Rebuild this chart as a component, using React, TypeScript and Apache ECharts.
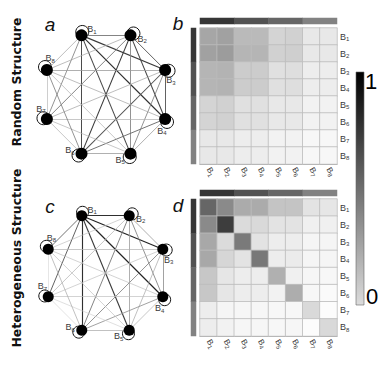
import React, { useEffect, useRef } from 'react';
import * as echarts from 'echarts';

const blocks = ['B1', 'B2', 'B3', 'B4', 'B5', 'B6', 'B7', 'B8'];
const rowTitles = ['Random Structure', 'Heterogeneous Structure'];
const panelLetters = ['a', 'b', 'c', 'd'];
const colorbarTicks = ['1', '0'];

// block-probability matrices (0..1), rows/cols B1..B8
const heatRandom = [
  [0.35, 0.37, 0.27, 0.27, 0.17, 0.18, 0.09, 0.09],
  [0.37, 0.39, 0.29, 0.29, 0.18, 0.19, 0.09, 0.09],
  [0.29, 0.3, 0.2, 0.2, 0.12, 0.13, 0.07, 0.07],
  [0.29, 0.3, 0.2, 0.2, 0.12, 0.13, 0.07, 0.07],
  [0.17, 0.18, 0.12, 0.12, 0.09, 0.09, 0.05, 0.05],
  [0.17, 0.18, 0.12, 0.12, 0.09, 0.09, 0.05, 0.05],
  [0.09, 0.09, 0.07, 0.07, 0.05, 0.05, 0.03, 0.03],
  [0.09, 0.09, 0.07, 0.07, 0.05, 0.05, 0.03, 0.03],
];
const heatHetero = [
  [0.6, 0.46, 0.33, 0.33, 0.23, 0.23, 0.11, 0.1],
  [0.46, 0.76, 0.14, 0.15, 0.11, 0.11, 0.06, 0.06],
  [0.34, 0.14, 0.52, 0.11, 0.07, 0.07, 0.04, 0.04],
  [0.34, 0.16, 0.11, 0.53, 0.07, 0.08, 0.04, 0.04],
  [0.22, 0.1, 0.07, 0.07, 0.31, 0.06, 0.035, 0.03],
  [0.22, 0.1, 0.07, 0.07, 0.05, 0.32, 0.03, 0.02],
  [0.07, 0.04, 0.035, 0.035, 0.03, 0.03, 0.15, 0.01],
  [0.07, 0.05, 0.035, 0.035, 0.03, 0.035, 0.01, 0.15],
];
// group shading of the top / left bars (4 groups of 2 blocks)
const groupBar = [0.79, 0.68, 0.6, 0.49];

// edges: [source, target, darkness 0..1]
const edgesRandom: [number, number, number][] = [
  [1, 2, 0.5], [1, 3, 0.75], [1, 4, 0.8], [1, 5, 0.7], [1, 6, 0.68], [1, 7, 0.45], [1, 8, 0.3],
  [2, 3, 0.6], [2, 4, 0.7], [2, 5, 0.45], [2, 6, 0.75], [2, 7, 0.5], [2, 8, 0.3],
  [3, 4, 0.6], [3, 5, 0.45], [3, 6, 0.65], [3, 7, 0.3], [3, 8, 0.35],
  [4, 5, 0.35], [4, 6, 0.55], [4, 7, 0.25], [4, 8, 0.3],
  [5, 6, 0.35], [5, 7, 0.25], [5, 8, 0.25],
  [6, 7, 0.25], [6, 8, 0.45],
  [7, 8, 0.22],
];
const edgesHetero: [number, number, number][] = [
  [1, 2, 0.8], [1, 3, 0.85], [1, 4, 0.85], [1, 5, 0.75], [1, 6, 0.8], [1, 7, 0.6], [1, 8, 0.55],
  [2, 3, 0.35], [2, 4, 0.45], [2, 5, 0.35], [2, 6, 0.5], [2, 7, 0.25], [2, 8, 0.2],
  [3, 4, 0.4], [3, 5, 0.28], [3, 6, 0.45], [3, 7, 0.2], [3, 8, 0.25],
  [4, 5, 0.25], [4, 6, 0.4], [4, 7, 0.2], [4, 8, 0.2],
  [5, 6, 0.28], [5, 7, 0.13], [5, 8, 0.2],
  [6, 7, 0.12], [6, 8, 0.28],
  [7, 8, 0.1],
];

const FONT = 'Liberation Sans';
const subRich = {
  b: { fontSize: 9, color: '#3a3a3a', fontFamily: FONT, lineHeight: 11 },
  s: { fontSize: 6, color: '#3a3a3a', fontFamily: FONT, lineHeight: 11, verticalAlign: 'bottom', padding: [4, 0, 0, 0] },
};
const subFmt = (name: string) => `{b|${name.slice(0, 1)}}{s|${name.slice(1)}}`;

const grayOf = (d: number) => {
  const g = Math.round(235 * (1 - d));
  return `rgb(${g},${g},${g})`;
};

// order nodes so the circular layout (which starts at 22.5deg, clockwise) puts B1 top-left
const layoutOrder = [3, 4, 5, 6, 7, 0, 1, 2];

function graphSeries(edges: [number, number, number][], cx: number, cy: number, r: number, nodeSize: number) {
  const nodes = layoutOrder.map((k, i) => {
    const ang = ((22.5 + 45 * i) * Math.PI) / 180;
    const la = ang + (83 * Math.PI) / 180;
    return {
      name: blocks[k],
      label: { offset: [12 * Math.cos(la), 12 * Math.sin(la)] },
    };
  });
  const rings = layoutOrder.map((k, i) => {
    const ang = ((22.5 + 45 * i) * Math.PI) / 180;
    const ra = ang + (35 * Math.PI) / 180;
    return { name: blocks[k], symbolOffset: [3.5 * Math.cos(ra), 3.5 * Math.sin(ra)] };
  });
  const box = { left: cx - r, top: cy - r, width: 2 * r, height: 2 * r };
  const main = {
    type: 'graph',
    layout: 'circular',
    ...box,
    silent: true,
    z: 3,
    symbol: 'circle',
    symbolSize: nodeSize,
    itemStyle: { color: '#000' },
    label: { show: true, position: 'inside', formatter: (p: any) => subFmt(p.name), rich: subRich },
    edgeSymbol: ['none', 'none'],
    data: nodes,
    links: edges.map(([s, t, d]) => ({
      source: blocks[s - 1],
      target: blocks[t - 1],
      lineStyle: { color: grayOf(d), width: 0.5 + 0.8 * d, opacity: 1, curveness: 0 },
    })),
  };
  const ringSeries = {
    type: 'graph',
    layout: 'circular',
    ...box,
    silent: true,
    z: 2,
    symbol: 'circle',
    symbolSize: nodeSize + 1,
    itemStyle: { color: 'rgba(255,255,255,0)', borderColor: '#111', borderWidth: 1 },
    label: { show: false },
    data: rings,
    links: [],
  };
  return [main, ringSeries];
}

const heatData = (m: number[][]) => m.flatMap((row, r) => row.map((v, c) => [c, r, v]));

export default function App() {
  const ref = useRef<HTMLDivElement>(null);
  useEffect(() => {
    document.body.style.margin = '0';
    const chart = echarts.init(ref.current!, null, { renderer: 'svg' });

    const grids = [
      { left: 200, top: 28, width: 137, height: 136 },
      { left: 200, top: 18, width: 137, height: 6 },
      { left: 191, top: 28, width: 5, height: 136 },
      { left: 200, top: 199, width: 137, height: 137 },
      { left: 200, top: 190, width: 137, height: 6 },
      { left: 191, top: 199, width: 5, height: 137 },
    ];
    const hidden = { show: false };
    const groupCats = groupBar.map((_, i) => String(i));
    const mainX = (gi: number) => ({
      type: 'category', gridIndex: gi, data: blocks,
      axisTick: hidden, axisLine: { show: true, lineStyle: { color: '#999', width: 1 } },
      axisLabel: { interval: 0, rotate: -60, margin: 4, formatter: subFmt, rich: { b: { ...subRich.b, fontSize: 8 }, s: subRich.s } },
    });
    const mainY = (gi: number) => ({
      type: 'category', gridIndex: gi, data: blocks, inverse: true, position: 'right',
      axisTick: hidden, axisLine: hidden,
      axisLabel: { interval: 0, margin: 3, formatter: subFmt, rich: subRich },
    });
    const xAxis = [
      mainX(0),
      { type: 'category', gridIndex: 1, data: groupCats, show: false },
      { type: 'category', gridIndex: 2, data: ['0'], show: false },
      mainX(3),
      { type: 'category', gridIndex: 4, data: groupCats, show: false },
      { type: 'category', gridIndex: 5, data: ['0'], show: false },
    ];
    const yAxis = [
      mainY(0),
      { type: 'category', gridIndex: 1, data: ['0'], show: false },
      { type: 'category', gridIndex: 2, data: groupCats, inverse: true, show: false },
      mainY(3),
      { type: 'category', gridIndex: 4, data: ['0'], show: false },
      { type: 'category', gridIndex: 5, data: groupCats, inverse: true, show: false },
    ];
    const cellStyle = { borderColor: '#bcbcbc', borderWidth: 0.8 };
    const heatSeries = [
      { type: 'heatmap', xAxisIndex: 0, yAxisIndex: 0, data: heatData(heatRandom), itemStyle: cellStyle, silent: true },
      { type: 'heatmap', xAxisIndex: 1, yAxisIndex: 1, data: groupBar.map((v, i) => [i, 0, v]), silent: true },
      { type: 'heatmap', xAxisIndex: 2, yAxisIndex: 2, data: groupBar.map((v, i) => [0, i, v]), silent: true },
      { type: 'heatmap', xAxisIndex: 3, yAxisIndex: 3, data: heatData(heatHetero), itemStyle: cellStyle, silent: true },
      { type: 'heatmap', xAxisIndex: 4, yAxisIndex: 4, data: groupBar.map((v, i) => [i, 0, v]), silent: true },
      { type: 'heatmap', xAxisIndex: 5, yAxisIndex: 5, data: groupBar.map((v, i) => [0, i, v]), silent: true },
    ];
    const graphs = [
      ...graphSeries(edgesRandom, 106, 94.5, 64, 12),
      ...graphSeries(edgesHetero, 105.5, 273, 62, 11),
    ];

    const letterStyle = { fontSize: 19, fontStyle: 'italic', fontFamily: FONT, fill: '#111', textAlign: 'center', textVerticalAlign: 'middle' };
    const titleStyle = { fontSize: 12.5, fontWeight: 'bold', fontFamily: 'DejaVu Sans', fill: '#111', textAlign: 'center', textVerticalAlign: 'middle' };

    chart.setOption({
      animation: false,
      backgroundColor: '#fff',
      grid: grids,
      xAxis,
      yAxis,
      visualMap: {
        type: 'continuous', show: false, min: 0, max: 1, seriesIndex: [4, 5, 6, 7, 8, 9],
        inRange: { color: ['#ffffff', '#000000'] },
      },
      series: [...graphs, ...heatSeries],
      graphic: [
        { type: 'text', x: 16, y: 82, rotation: Math.PI / 2, style: { text: rowTitles[0], ...titleStyle } },
        { type: 'text', x: 16, y: 258, rotation: Math.PI / 2, style: { text: rowTitles[1], ...titleStyle } },
        { type: 'text', x: 50, y: 24, style: { text: panelLetters[0], ...letterStyle } },
        { type: 'text', x: 178, y: 23, style: { text: panelLetters[1], ...letterStyle } },
        { type: 'text', x: 50, y: 206, style: { text: panelLetters[2], ...letterStyle } },
        { type: 'text', x: 178, y: 205, style: { text: panelLetters[3], ...letterStyle } },
        {
          type: 'rect', shape: { x: 356, y: 72, width: 8, height: 233 },
          style: {
            fill: new echarts.graphic.LinearGradient(0, 0, 0, 1, [
              { offset: 0, color: '#000000' },
              { offset: 1, color: '#dcdcdc' },
            ]),
            stroke: '#666', lineWidth: 0.6,
          },
        },
        { type: 'text', x: 371, y: 81, style: { text: colorbarTicks[0], fontSize: 22, fontFamily: FONT, fill: '#000', textAlign: 'center', textVerticalAlign: 'middle' } },
        { type: 'text', x: 372, y: 296, style: { text: colorbarTicks[1], fontSize: 22, fontFamily: FONT, fill: '#000', textAlign: 'center', textVerticalAlign: 'middle' } },
      ],
    });
    return () => chart.dispose();
  }, []);
  return <div ref={ref} style={{ width: 382, height: 382 }} />;
}
